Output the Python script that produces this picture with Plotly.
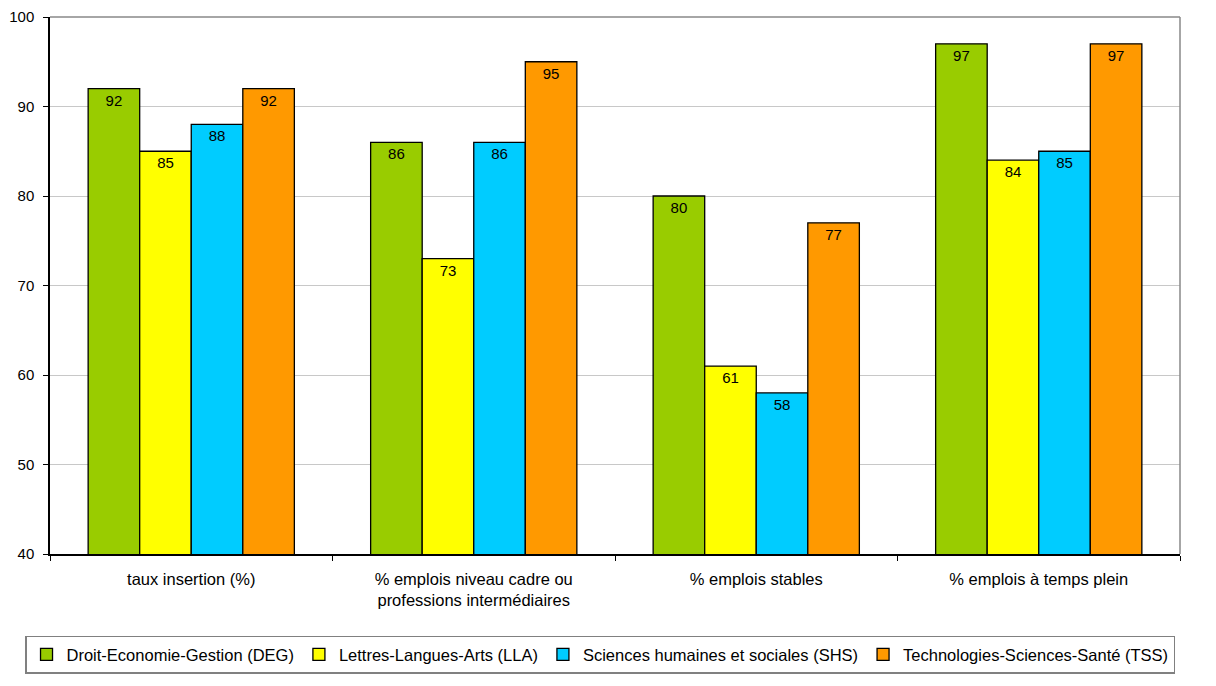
import plotly.graph_objects as go

categories = ["taux insertion (%)",
              "% emplois niveau cadre ou<br>professions intermédiaires",
              "% emplois stables",
              "% emplois à temps plein"]
series_names = ["Droit-Economie-Gestion (DEG)",
                "Lettres-Langues-Arts (LLA)",
                "Sciences humaines et sociales (SHS)",
                "Technologies-Sciences-Santé (TSS)"]
deg = [92, 86, 80, 97]
lla = [85, 73, 61, 84]
shs = [88, 86, 58, 85]
tss = [92, 95, 77, 97]
y_ticks = [40, 50, 60, 70, 80, 90, 100]
colors = ["#99CC00", "#FFFF00", "#00CCFF", "#FF9900"]

FONT = "Liberation Sans, Arial, sans-serif"

fig = go.Figure()
for name, vals, col in zip(series_names, [deg, lla, shs, tss], colors):
    fig.add_trace(go.Bar(
        x=categories, y=vals, name=name,
        marker=dict(color=col, line=dict(color="black", width=1.3)),
        text=[str(v) for v in vals], textposition="inside",
        insidetextanchor="end", textangle=0, constraintext="none",
        textfont=dict(family=FONT, size=15, color="black"),
    ))

# the page body adds an 8px offset; plot area should land at about x 50-1180, y 17-554
fig.update_layout(
    width=1208, height=678,
    margin=dict(l=42, r=36, t=9, b=132, autoexpand=False),
    paper_bgcolor="white", plot_bgcolor="white",
    barmode="group", bargap=0.27, bargroupgap=0,
    font=dict(family=FONT, size=15, color="black"),
    showlegend=True,
    legend=dict(orientation="h", x=-0.0221, y=-0.152, xanchor="left", yanchor="top",
                bordercolor="#808080", borderwidth=1.5, bgcolor="white",
                font=dict(family=FONT, size=16.5), itemwidth=30,
                traceorder="normal"),
    shapes=[
        dict(type="line", xref="paper", yref="paper", x0=0, x1=1, y0=1, y1=1,
             line=dict(color="#888888", width=1.5)),
        dict(type="line", xref="paper", yref="paper", x0=1, x1=1, y0=0, y1=1,
             line=dict(color="#888888", width=1.5)),
    ],
)
fig.update_yaxes(range=[40, 100], tickvals=y_ticks, showgrid=True, gridcolor="#C8C8C8",
                 gridwidth=1, showline=True, linecolor="black", linewidth=1.5,
                 ticks="outside", ticklen=5, tickcolor="black", ticklabelstandoff=6,
                 ticklabeloverflow="allow",
                 tickfont=dict(family=FONT, size=15), zeroline=False)
fig.update_xaxes(showline=True, linecolor="black", linewidth=1.5,
                 ticks="outside", ticklen=5, tickcolor="black", tickson="boundaries",
                 ticklabelstandoff=9, ticklabeloverflow="allow",
                 tickfont=dict(family=FONT, size=16.5))

fig.write_html("out.html")
